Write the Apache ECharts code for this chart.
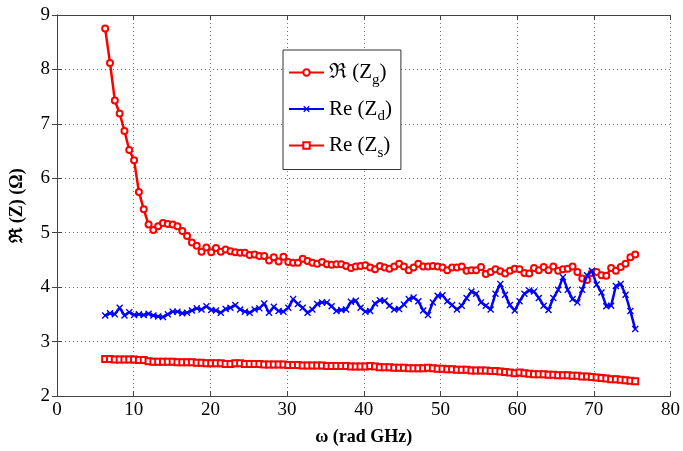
<!DOCTYPE html>
<html>
<head>
<meta charset="utf-8">
<script src="https://cdn.jsdelivr.net/npm/echarts@6/dist/echarts.min.js"></script>
<style>
  html, body { margin: 0; padding: 0; background: #fff; }
  #chart { width: 683px; height: 451px; }
</style>
</head>
<body>
<div id="chart"></div>
<script>
// angular frequency grid (rad GHz)
const omega = [
  6.28, 6.91, 7.54, 8.17, 8.80, 9.42, 10.05, 10.68, 11.31, 11.94,
  12.57, 13.19, 13.82, 14.45, 15.08, 15.71, 16.34, 16.96, 17.59, 18.22,
  18.85, 19.48, 20.11, 20.73, 21.36, 21.99, 22.62, 23.25, 23.88, 24.50,
  25.13, 25.76, 26.39, 27.02, 27.65, 28.27, 28.90, 29.53, 30.16, 30.79,
  31.42, 32.04, 32.67, 33.30, 33.93, 34.56, 35.19, 35.81, 36.44, 37.07,
  37.70, 38.33, 38.96, 39.58, 40.21, 40.84, 41.47, 42.10, 42.73, 43.35,
  43.98, 44.61, 45.24, 45.87, 46.50, 47.12, 47.75, 48.38, 49.01, 49.64,
  50.27, 50.89, 51.52, 52.15, 52.78, 53.41, 54.04, 54.66, 55.29, 55.92,
  56.55, 57.18, 57.81, 58.43, 59.06, 59.69, 60.32, 60.95, 61.58, 62.20,
  62.83, 63.46, 64.09, 64.72, 65.35, 65.97, 66.60, 67.23, 67.86, 68.49,
  69.12, 69.74, 70.37, 71.00, 71.63, 72.26, 72.88, 73.51, 74.14, 74.77,
  75.40
];

// Re(Zg), gate resistance (Ohm)
const reZg = [
  8.75, 8.12, 7.43, 7.19, 6.87, 6.52, 6.33, 5.75, 5.43, 5.15,
  5.05, 5.12, 5.18, 5.16, 5.15, 5.12, 5.03, 4.94, 4.82, 4.76,
  4.65, 4.73, 4.64, 4.72, 4.65, 4.69, 4.66, 4.64, 4.63, 4.63,
  4.59, 4.60, 4.57, 4.57, 4.49, 4.55, 4.47, 4.56, 4.46, 4.45,
  4.45, 4.52, 4.48, 4.45, 4.43, 4.46, 4.42, 4.41, 4.42, 4.42,
  4.39, 4.35, 4.38, 4.39, 4.40, 4.36, 4.33, 4.39, 4.36, 4.34,
  4.38, 4.43, 4.38, 4.31, 4.36, 4.43, 4.38, 4.38, 4.39, 4.38,
  4.36, 4.31, 4.36, 4.36, 4.38, 4.30, 4.31, 4.31, 4.37, 4.24,
  4.28, 4.33, 4.29, 4.25, 4.30, 4.34, 4.33, 4.26, 4.25, 4.35,
  4.31, 4.37, 4.31, 4.38, 4.30, 4.33, 4.34, 4.38, 4.28, 4.16,
  4.13, 4.26, 4.28, 4.22, 4.21, 4.35, 4.30, 4.37, 4.43, 4.55,
  4.60
];

// Re(Zd), drain resistance (Ohm)
const reZd = [
  3.48, 3.52, 3.50, 3.62, 3.48, 3.54, 3.49, 3.50, 3.49, 3.51,
  3.48, 3.46, 3.45, 3.50, 3.55, 3.55, 3.52, 3.53, 3.57, 3.61,
  3.59, 3.65, 3.58, 3.57, 3.53, 3.60, 3.62, 3.67, 3.59, 3.55,
  3.53, 3.59, 3.61, 3.70, 3.53, 3.64, 3.56, 3.55, 3.62, 3.78,
  3.69, 3.62, 3.53, 3.59, 3.69, 3.72, 3.72, 3.65, 3.56, 3.58,
  3.59, 3.73, 3.75, 3.62, 3.55, 3.56, 3.70, 3.76, 3.75, 3.66,
  3.59, 3.60, 3.68, 3.78, 3.81, 3.74, 3.57, 3.49, 3.72, 3.84,
  3.85, 3.74, 3.67, 3.59, 3.66, 3.80, 3.92, 3.88, 3.72, 3.66,
  3.59, 3.88, 4.06, 3.86, 3.67, 3.57, 3.74, 3.88, 3.94, 3.92,
  3.80, 3.66, 3.58, 3.80, 3.95, 4.18, 3.95, 3.78, 3.72, 3.95,
  4.22, 4.30, 4.05, 3.90, 3.65, 3.66, 4.02, 4.06, 3.86, 3.56,
  3.23
];

// Re(Zs), source resistance (Ohm)
const reZs = [
  2.68, 2.68, 2.67, 2.67, 2.67, 2.67, 2.67, 2.66, 2.66, 2.64,
  2.63, 2.63, 2.63, 2.63, 2.63, 2.62, 2.62, 2.62, 2.62, 2.61,
  2.61, 2.60, 2.60, 2.60, 2.60, 2.59, 2.59, 2.60, 2.60, 2.59,
  2.59, 2.59, 2.59, 2.58, 2.58, 2.58, 2.58, 2.58, 2.57, 2.57,
  2.57, 2.56, 2.56, 2.56, 2.56, 2.56, 2.55, 2.55, 2.55, 2.55,
  2.55, 2.54, 2.54, 2.54, 2.54, 2.55, 2.54, 2.53, 2.53, 2.53,
  2.52, 2.52, 2.52, 2.51, 2.51, 2.51, 2.51, 2.52, 2.51, 2.50,
  2.50, 2.49, 2.49, 2.48, 2.48, 2.48, 2.47, 2.47, 2.47, 2.47,
  2.46, 2.46, 2.45, 2.44, 2.43, 2.42, 2.43, 2.42, 2.41, 2.40,
  2.40, 2.40, 2.39, 2.39, 2.38, 2.38, 2.38, 2.37, 2.37, 2.36,
  2.36, 2.35, 2.34, 2.33, 2.32, 2.31, 2.31, 2.30, 2.29, 2.28,
  2.27
];

const xTicks = { min: 0, max: 80, step: 10 };
const yTicks = { min: 2, max: 9, step: 1 };

const seriesNames = ['ℜ (Zg)', 'Re (Zd)', 'Re (Zs)'];
const legendRich = {
  'ℜ (Zg)': '{n|ℜ (Z}{s|g}{n|)}',
  'Re (Zd)': '{n|Re (Z}{s|d}{n|)}',
  'Re (Zs)': '{n|Re (Z}{s|s}{n|)}'
};

const SERIF = '"Liberation Serif", "DejaVu Serif", serif';
const crossPath = 'path://M0,1.4L1.4,0L5,3.6L8.6,0L10,1.4L6.4,5L10,8.6L8.6,10L5,6.4L1.4,10L0,8.6L3.6,5Z';

function pairs(ys) {
  return omega.map((x, i) => [x, ys[i]]);
}

const gridLine = { show: true, lineStyle: { color: '#777', type: [1, 3], width: 1 } };
const frameLine = { show: true, lineStyle: { color: '#444', width: 1 } };

const chart = echarts.init(document.getElementById('chart'), null, { renderer: 'canvas' });
chart.setOption({
  backgroundColor: '#fff',
  animation: false,
  grid: { left: 51, top: 15, width: 621, height: 382, containLabel: false },
  legend: {
    orient: 'vertical',
    left: 283,
    top: 50,
    data: seriesNames,
    itemWidth: 35,
    itemHeight: 8,
    itemGap: 11,
    padding: [12, 9, 9, 5],
    backgroundColor: '#fff',
    borderColor: '#333',
    borderWidth: 1,
    borderRadius: 0,
    formatter: name => legendRich[name],
    textStyle: {
      rich: {
        n: { fontFamily: SERIF, fontSize: 21, color: '#000', lineHeight: 30, verticalAlign: 'middle' },
        s: { fontFamily: SERIF, fontSize: 15, color: '#000', lineHeight: 30, verticalAlign: 'bottom' }
      }
    }
  },
  xAxis: [{
    type: 'value',
    min: xTicks.min, max: xTicks.max, interval: xTicks.step,
    name: 'ω (rad GHz)',
    nameLocation: 'middle',
    nameGap: 32,
    nameTextStyle: { fontFamily: SERIF, fontSize: 18, fontWeight: 'bold', color: '#000' },
    axisLine: frameLine,
    axisTick: { show: true, inside: true, length: 5, lineStyle: { color: '#444' } },
    axisLabel: { fontFamily: SERIF, fontSize: 19, color: '#000', margin: 5 },
    splitLine: gridLine
  }, {
    type: 'value', position: 'top',
    min: xTicks.min, max: xTicks.max, interval: xTicks.step,
    axisLine: frameLine,
    axisTick: { show: true, inside: true, length: 5, lineStyle: { color: '#444' } },
    axisLabel: { show: false },
    splitLine: { show: false }
  }],
  yAxis: [{
    type: 'value',
    min: yTicks.min, max: yTicks.max, interval: yTicks.step,
    name: 'ℜ (Z) (Ω)',
    nameLocation: 'middle',
    nameGap: 31,
    nameTextStyle: { fontFamily: SERIF, fontSize: 18, fontWeight: 'bold', color: '#000' },
    axisLine: frameLine,
    axisTick: { show: true, inside: true, length: 5, lineStyle: { color: '#444' } },
    axisLabel: { fontFamily: SERIF, fontSize: 19, color: '#000', margin: 7 },
    splitLine: gridLine
  }, {
    type: 'value', position: 'right',
    min: yTicks.min, max: yTicks.max, interval: yTicks.step,
    axisLine: frameLine,
    axisTick: { show: true, inside: true, length: 5, lineStyle: { color: '#444' } },
    axisLabel: { show: false },
    splitLine: { show: false }
  }],
  series: [{
    name: seriesNames[0],
    type: 'line',
    data: pairs(reZg),
    symbol: 'emptyCircle',
    symbolSize: 6,
    showAllSymbol: true,
    lineStyle: { color: '#ff0000', width: 2.5 },
    itemStyle: { color: '#ff0000', borderColor: '#ff0000', borderWidth: 1.8 },
    z: 3
  }, {
    name: seriesNames[1],
    type: 'line',
    data: pairs(reZd),
    symbol: crossPath,
    symbolSize: 7,
    showAllSymbol: true,
    lineStyle: { color: '#0000ff', width: 2.5 },
    itemStyle: { color: '#0000ff' },
    z: 4
  }, {
    name: seriesNames[2],
    type: 'line',
    data: pairs(reZs),
    symbol: 'emptyRect',
    symbolSize: 6,
    showAllSymbol: true,
    lineStyle: { color: '#ff0000', width: 2.5 },
    itemStyle: { color: '#ff0000', borderColor: '#ff0000', borderWidth: 1.8 },
    z: 3
  }]
});
</script>
</body>
</html>
